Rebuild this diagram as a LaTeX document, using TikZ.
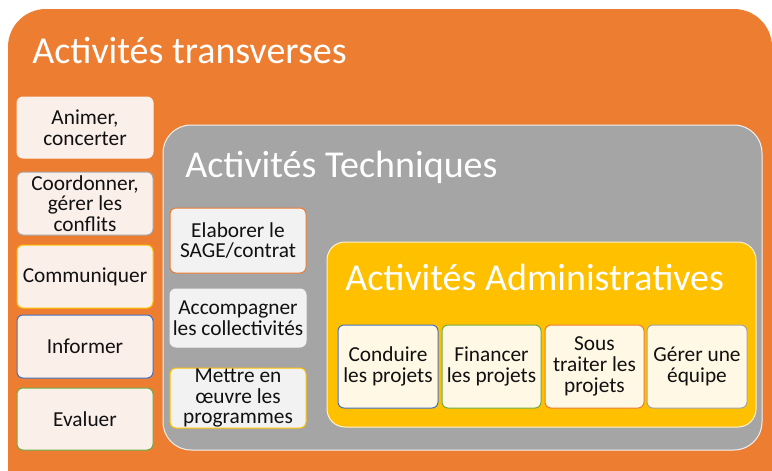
\documentclass[tikz,border=0pt]{standalone}
\usepackage{fontspec}
\setmainfont{Carlito}
\definecolor{cOrange}{HTML}{ED7D31}
\definecolor{cGray}{HTML}{A5A5A5}
\definecolor{cYellow}{HTML}{FFC000}
\definecolor{cBlue}{HTML}{4472C4}
\definecolor{cGreen}{HTML}{70AD47}
\definecolor{fPink}{HTML}{FBEFEA}
\definecolor{fGray}{HTML}{F2F2F2}
\definecolor{fCream}{HTML}{FFF8E5}
\definecolor{cText}{HTML}{111111}
\tikzset{
  boxstyle/.style={rounded corners=4.5pt, line width=0.75pt, inner sep=0pt, align=center, text=cText,
    font=\fontsize{16}{15.6}\selectfont},
  titlestyle/.style={anchor=base west, inner sep=0pt, text=white, font=\fontsize{28.5}{30}\selectfont},
}
\newcommand\mybox[8]{\node[boxstyle, draw=#6, fill=#7,
  minimum width={(#4-#2)*0.75pt}, minimum height={(#5-#3)*0.75pt}] (#1) at ({(#2+#4)/2},{(#3+#5)/2}) {#8};}
\begin{document}
\begin{tikzpicture}[x=0.75pt,y=-0.75pt]
\useasboundingbox (0,0) rectangle (772,471);
\clip (0,0) rectangle (772,471);
\fill[white] (0,0) rectangle (772,471);
% containers
\path[fill=cOrange, rounded corners=28.5pt] (8,9) rectangle (772,520);
\node[titlestyle] (t1) at (32,63) {Activités transverses};
\path[fill=cGray, draw=white!85!cGray, line width=0.75pt, rounded corners=21pt] (163,125) rectangle (762,450);
\node[titlestyle] (t2) at (185,177) {Activités Techniques};
\path[fill=cYellow, draw=white!80!cYellow, line width=0.75pt, rounded corners=13.5pt] (327,242) rectangle (756,427);
\node[titlestyle] (t3) at (345,290) {Activités Administratives};
% left column
\mybox{a1}{17}{97}{153}{158}{fPink}{fPink}{Animer,\\concerter}
\mybox{a2}{17}{172}{153}{235}{cGray}{fPink}{Coordonner,\\gérer les\\conflits}
\mybox{a3}{17}{245}{153}{308}{cYellow}{fPink}{Communiquer}
\mybox{a4}{17}{315}{153}{378}{cBlue}{fPink}{Informer}
\mybox{a5}{17}{388}{153}{450}{cGreen}{fPink}{Evaluer}
% middle column
\mybox{b1}{170}{208}{306}{273}{cOrange}{fGray}{Elaborer le\\SAGE/contrat}
\mybox{b2}{170}{289}{306}{347}{fGray}{fGray}{Accompagner\\les collectivités}
\mybox{b3}{170}{368}{306}{428}{cYellow}{fGray}{Mettre en\\œuvre les\\programmes}
% admin row
\mybox{c1}{338}{325}{438}{408}{cBlue}{fCream}{Conduire\\les projets}
\mybox{c2}{442}{325}{541}{408}{cGreen}{fCream}{Financer\\les projets}
\mybox{c3}{545}{325}{644}{408}{cOrange}{fCream}{Sous\\traiter les\\projets}
\mybox{c4}{647}{325}{747}{408}{cGray}{fCream}{Gérer une\\équipe}
\end{tikzpicture}
\end{document}
